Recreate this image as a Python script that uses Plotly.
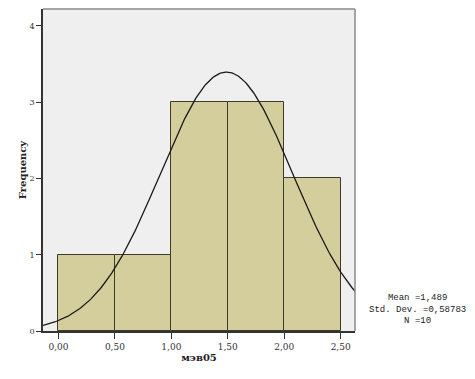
import numpy as np
import plotly.graph_objects as go

bin_left = [0.0, 0.5, 1.0, 1.5, 2.0]
bin_width = 0.5
counts = [1, 1, 3, 3, 2]
mean = 1.489
std_dev = 0.58783
n_obs = 10
x_ticks = [0.0, 0.5, 1.0, 1.5, 2.0, 2.5]
y_ticks = [0, 1, 2, 3, 4]
x_title = "мэв05"
y_title = "Frequency"

x_range = [-0.137, 2.627]
y_range = [0, 4.22]

centers = [b + bin_width / 2 for b in bin_left]

xs = np.linspace(x_range[0], x_range[1], 300)
ys = n_obs * bin_width / (std_dev * np.sqrt(2 * np.pi)) * np.exp(-0.5 * ((xs - mean) / std_dev) ** 2)

fig = go.Figure()
fig.add_trace(go.Bar(
    x=centers, y=counts, width=[bin_width] * len(counts),
    marker=dict(color="#D3CE9B", line=dict(color="#3E3C28", width=1)),
    hoverinfo="skip",
))
fig.add_trace(go.Scatter(
    x=xs, y=ys, mode="lines",
    line=dict(color="#1a1a1a", width=1.3),
    hoverinfo="skip",
))

tick_font = dict(family="DejaVu Serif, serif", size=9, color="#333333")

# page body has an 8px default margin: size the figure so it fits the window
fig.update_layout(
    width=467, height=371,
    margin=dict(l=35, r=120, t=1, b=48),
    paper_bgcolor="white",
    plot_bgcolor="#EFEFEF",
    showlegend=False,
    bargap=0,
    separators=", ",
    xaxis=dict(
        range=x_range, tickvals=x_ticks, tickformat=".2f",
        ticks="outside", ticklen=6, tickcolor="#333333",
        showgrid=False, zeroline=False, automargin=False,
        showline=True, linecolor="#333333", linewidth=1.5,
        tickfont=tick_font,
        title=dict(text="<b>" + x_title + "</b>", font=dict(family="DejaVu Serif, serif", size=10, color="#222222"), standoff=2),
    ),
    yaxis=dict(
        range=y_range, tickvals=y_ticks,
        ticks="outside", ticklen=5, tickcolor="#333333",
        showgrid=False, zeroline=False, automargin=False,
        showline=True, linecolor="#333333", linewidth=1.5,
        tickfont=dict(family="DejaVu Serif, serif", size=8, color="#333333"),
        title=dict(text="<b>" + y_title + "</b>", font=dict(family="DejaVu Serif, serif", size=10, color="#222222"), standoff=1),
    ),
)

# top/right frame
fig.add_shape(type="line", xref="paper", yref="paper", x0=0, x1=1, y0=1, y1=1,
              line=dict(color="#8a8a8a", width=1.5))
fig.add_shape(type="line", xref="paper", yref="paper", x0=1, x1=1, y0=0, y1=1,
              line=dict(color="#8a8a8a", width=1.5))

stats = "Mean =%s<br>Std. Dev. =%s<br>N =%d" % (
    ("%.3f" % mean).replace(".", ","), ("%.5f" % std_dev).replace(".", ","), n_obs)
fig.add_annotation(
    xref="paper", yref="paper", x=1.2, y=0.068, xanchor="center", yanchor="middle",
    text=stats, showarrow=False, align="center",
    font=dict(family="Liberation Mono, monospace", size=9, color="#222222"),
)

fig.write_html("out.html")
